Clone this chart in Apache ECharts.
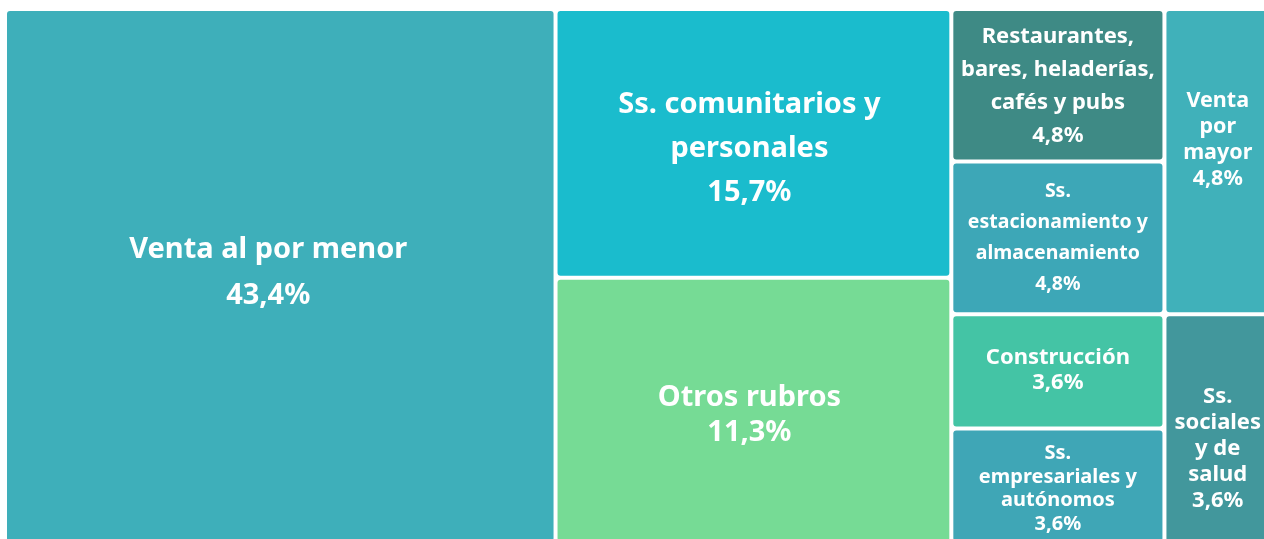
<!DOCTYPE html>
<html>
<head>
<meta charset="utf-8">
<script src="https://cdn.jsdelivr.net/npm/echarts@6/dist/echarts.min.js"></script>
<style>
  html, body { margin: 0; padding: 0; background: #fff; }
  #main { width: 1264px; height: 539px; }
</style>
</head>
<body>
<div id="main"></div>
<script>
// rubros (line breaks as in the picture)
const names = [
  'Venta al por menor',
  'Ss. comunitarios y\npersonales',
  'Otros rubros',
  'Restaurantes,\nbares, heladerías,\ncafés y pubs',
  'Ss.\nestacionamiento y\nalmacenamiento',
  'Construcción',
  'Ss.\nempresariales y\nautónomos',
  'Venta\npor\nmayor',
  'Ss.\nsociales\ny de\nsalud'
];
// tile size (read from the areas) and the printed share
const sizes = [43.4, 15.7, 15.5, 4.8, 4.8, 3.6, 3.6, 4.8, 3.6];
const shares = ['43,4%', '15,7%', '11,3%', '4,8%', '4,8%', '3,6%', '3,6%', '4,8%', '3,6%'];
// which column each tile sits in
const column = [0, 1, 1, 2, 2, 2, 2, 3, 3];

const colors = ['#3eafba', '#1abccd', '#76db95', '#3e8a85', '#3da7b7', '#44c4a5', '#3fa6b6', '#40b1ba', '#42979c'];
// font size, line height, nudge x, nudge y
const textStyle = [
  [29, 46, -12, -3], [29, 44, -4, 5], [29, 35, -4, 5],
  [22, 33, 0, 1], [19.5, 31, 0, 0], [22, 25, 0, -1], [20, 23.5, 0, 3],
  [21.5, 26, 0, -22], [22, 26, 0, 20]
];

function leaf(i) {
  return {
    name: names[i],
    value: sizes[i],
    share: shares[i],
    itemStyle: { color: colors[i] },
    label: {
      fontSize: textStyle[i][0],
      lineHeight: textStyle[i][1],
      offset: [textStyle[i][2], textStyle[i][3]]
    }
  };
}
function col(c) {
  let out = [];
  for (let i = 0; i < names.length; i++) {
    if (column[i] == c) out.push(leaf(i));
  }
  return out;
}

// columns 0..2 together, then the narrow one on the right
let treeData = [
  {
    name: 'left',
    children: [
      col(0)[0],
      { name: 'c1', children: col(1) },
      { name: 'c2', children: col(2) }
    ]
  },
  { name: 'c3', children: col(3) }
];

let chart = echarts.init(document.getElementById('main'));
chart.setOption({
  animation: false,
  series: [
    {
      type: 'treemap',
      left: 7,
      top: 11,
      width: 1262,
      height: 530,
      roam: false,
      nodeClick: false,
      sort: false,
      squareRatio: 1,
      breadcrumb: { show: false },
      itemStyle: {
        gapWidth: 4,
        borderWidth: 0,
        borderColor: '#fff',
        borderRadius: 3
      },
      label: {
        show: true,
        position: 'inside',
        color: '#fff',
        fontFamily: 'Noto Sans',
        fontWeight: 'bold',
        overflow: 'none',
        formatter: p => p.name + '\n' + p.data.share
      },
      data: treeData
    }
  ]
});
</script>
</body>
</html>
